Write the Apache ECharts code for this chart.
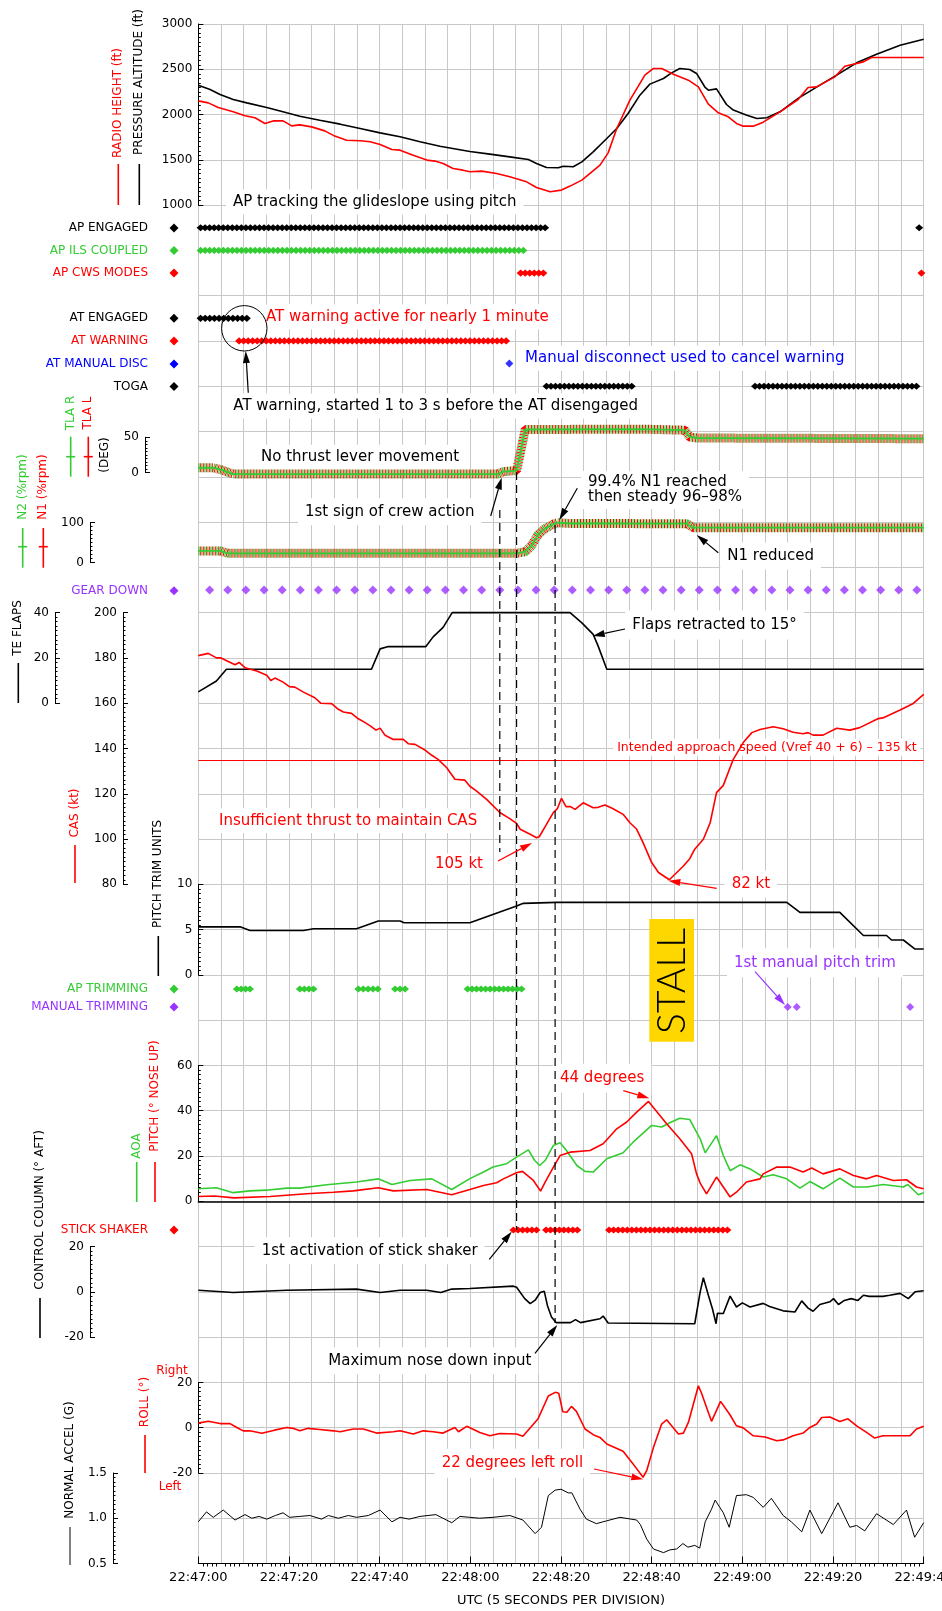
<!DOCTYPE html>
<html><head><meta charset="utf-8">
<script src="https://cdn.jsdelivr.net/npm/echarts@6/dist/echarts.min.js"></script>
<style>html,body{margin:0;padding:0;background:#fff}#c{width:942px;height:1611px}</style>
</head><body><div id="c"></div><script>
// ---------- DATA (t = seconds after 22:47:00 UTC) ----------
const timeTicks = ['22:47:00','22:47:20','22:47:40','22:48:00','22:48:20','22:48:40','22:49:00','22:49:20','22:49:40'];
const pressureAltitude = [[0,2325],[2.6,2277],[4.8,2222],[7.7,2166],[10.7,2129],[15.1,2078],[19.5,2019],[22.4,1982],[26.8,1938],[31.3,1894],[35.7,1846],[40.1,1798],[44.5,1754],[48.9,1699],[53.3,1651],[59.9,1592],[64.3,1563],[68.7,1533],[72.8,1504],[74.6,1460],[76.8,1416],[79.4,1412],[80.5,1430],[82.7,1423],[84.6,1478],[87.1,1588],[90.1,1736],[92.3,1846],[94.8,2012],[97.4,2214],[99.6,2336],[102.6,2398],[104.4,2460],[106.2,2509],[108.4,2498],[109.9,2454],[111.8,2299],[112.5,2269],[114.3,2284],[116.5,2111],[118,2049],[121,1993],[123.2,1956],[125.4,1964],[128.3,2030],[132.3,2178],[137.1,2325],[140.8,2435],[145.2,2571],[149.6,2667],[154.8,2766],[160,2832]];
const radioHeight = [[0,2151],[2.2,2129],[4.4,2078],[7.7,2030],[10.3,1986],[12.5,1964],[14.7,1902],[16.5,1930],[18.7,1930],[20.6,1875],[22.4,1886],[25,1864],[27.9,1820],[30.1,1762],[32.7,1717],[35.7,1710],[37.9,1699],[40.1,1670],[42.7,1615],[44.5,1607],[47.4,1552],[50.4,1497],[52.2,1486],[54,1460],[56.2,1405],[58.4,1386],[59.9,1368],[62.5,1375],[65.8,1350],[68.7,1313],[72.4,1257],[74.6,1195],[77.6,1147],[80.1,1166],[82,1210],[84.6,1276],[88.6,1442],[90.4,1577],[92.3,1846],[95.2,2159],[98.5,2435],[100.4,2509],[102.2,2509],[104.8,2446],[108.1,2380],[110.3,2306],[112.5,2115],[114.7,2019],[116.9,1975],[118.7,1902],[120.2,1872],[122.4,1872],[124.6,1916],[128.3,2030],[132.3,2166],[134.5,2299],[136.4,2306],[140.4,2416],[142.6,2534],[146.7,2582],[148.5,2630],[160,2630]];
const apEngaged = [[0.5,76.5],[159,159]];
const apIlsCoupled = [[0.5,71.7]];
const apCwsModes = [[71.1,76.1],[159.5,159.5]];
const atEngaged = [[0.5,10.7]];
const atWarning = [[9,67.9]];
const atManualDisc = [68.6];
const toga = [[76.8,95.6],[122.8,158.4]];
const tla = [[0,7],[3.3,7],[5.1,4],[7.7,-2],[66,-2],[67.3,1.5],[70.2,3],[71,27],[72.1,61],[98,61.5],[107.3,60],[108.4,50.5],[110,49],[160,48]];
const n1 = [[0,29],[4.8,29],[6.6,23],[70.2,23],[72.1,27],[73.5,42],[74.9,69],[76.4,84],[78.3,96],[79.2,99.4],[82,97.5],[90,97.5],[100,97],[107.7,97],[109.2,87],[160,87]];
const gearDown = [2.5,6.5,10.5,14.5,18.5,22.5,26.5,30.5,34.5,38.5,42.5,46.5,50.5,54.5,58.5,62.5,66.5,70.5,74.5,78.5,82.5,86.5,90.5,94.5,98.5,102.5,106.5,110.5,114.5,118.5,122.5,126.5,130.5,134.5,138.5,142.5,146.5,150.5,154.5,158.5];
const teFlaps = [[0,5],[4,9.8],[6.2,15],[38.2,15],[40.1,24],[41.9,25],[50.2,25],[51.8,29.3],[54,33.5],[56,40],[82,40],[84.6,35.5],[87.1,30.4],[88.2,25.2],[90.1,15],[160,15]];
const cas = [[0,181],[2.2,182],[4,180],[5,180],[8.1,177],[9,178],[10.3,175.7],[12.9,174.2],[15.1,172.3],[16,170],[16.9,171.1],[18.7,169.3],[20.1,167.3],[21.3,167.1],[23.2,164.9],[25.7,162.4],[27,160],[29.4,159.8],[30.9,157.3],[32,156.1],[33.8,155.5],[35.3,153.1],[36.8,151.4],[38,149.9],[39.2,148.1],[40.1,149],[41.2,145.8],[43,144],[45.2,144],[46.3,142.1],[47.8,141.8],[50,139.3],[51.5,137],[52.9,135.2],[54.8,131.5],[56.6,126.4],[58.8,126],[59.9,123.3],[61.4,121.2],[63.6,117.5],[66.5,111.7],[68.7,109],[70.2,106.9],[71,104.3],[73.2,102.1],[74.6,100.6],[75.2,101],[76.8,106.5],[78.3,111.7],[79.2,113.4],[80.1,118],[81.1,114.3],[82.1,114.3],[83.1,113.1],[84.9,116],[87.1,113.8],[88.2,114],[89.7,115],[91.5,113.4],[93.7,110.9],[95.2,107.2],[96.7,104.3],[98.1,98.4],[100,89.6],[101.5,85.2],[103.9,82],[107,88.1],[108.4,91.3],[109.5,95.5],[111.4,99.9],[112.9,107.2],[114.3,120.5],[115.8,123.7],[118,135.2],[120.2,142.6],[122.1,147],[123.9,148.4],[126.8,149.6],[129,148.7],[131.2,147.2],[133.4,146.5],[134.5,147],[135.6,145.9],[137.8,145.9],[140.8,148.9],[143.7,148.1],[145.9,149.2],[150,153.2],[151,153.5],[154.8,157],[157.7,159.9],[160,163.9]];
const intendedSpeed = 135;
const pitchTrim = [[0,5.3],[9.2,5.3],[11.4,4.9],[23.2,4.9],[25.4,5.1],[34.9,5.1],[39.7,5.95],[44.5,5.95],[45.4,5.75],[59.9,5.75],[70.2,7.6],[71.7,7.9],[79,8.0],[129.8,8.0],[132.7,6.9],[141.5,6.9],[146.7,4.35],[151.8,4.35],[152.9,3.85],[155.5,3.85],[158.1,2.85],[160,2.85]];
const apTrimming = [[8.5,11.4],[22.4,25.4],[35.3,39.6],[43.4,45.6],[59.4,71.3]];
const manualTrimming = [130,132,157];
const pitch = [[0,2.1],[3.5,2.3],[7.9,1.5],[15.8,2.1],[23.9,3.3],[29.8,4],[34.2,4.6],[39.7,6],[43,4.6],[50.4,5.2],[55.9,2.9],[59.9,5.2],[62.9,7],[65.8,8.2],[67.3,9.9],[70.2,12.6],[71.5,13.2],[73.9,9.2],[75.5,4.5],[76.5,8.5],[78.3,15],[79.8,20.2],[82,21.7],[86.4,22.4],[89.3,25.4],[92.3,32],[94.5,35],[96.7,39.4],[99.3,44.1],[103.3,34.2],[106.2,27.6],[108.8,21],[109.9,12.1],[110.7,8],[112.1,3.3],[114.3,10.7],[117.3,1.9],[118.7,4],[120.9,8.5],[123.9,9.9],[124.6,12.1],[127.6,15.1],[130.5,15.1],[133.4,12.9],[135.3,14.7],[137.8,12.1],[141.5,14.3],[144.5,11.4],[147.4,9.9],[149.6,11.4],[153.3,9.2],[156.2,9.5],[158.4,6.3],[160,5.5]];
const aoa = [[0,5.5],[4,6],[7.7,3.8],[11.4,4.6],[15,4.9],[19.5,5.8],[22.4,5.8],[28.3,7.3],[34.9,8.5],[39.7,9.9],[42.7,7.4],[46.7,9.2],[51.5,9.9],[55.9,5.2],[59.9,10],[62.9,12.9],[65,15.1],[68,16.6],[70.2,19.5],[72.8,22.7],[74.2,18],[75.3,15.8],[76.5,18],[78.3,24.6],[79.8,25.8],[81.2,22.4],[83.5,15.8],[85.3,13.2],[87.1,12.9],[90.1,18.8],[93.7,21.4],[95.9,26.1],[100,33.5],[102.2,32.8],[104,34.7],[106.2,36.7],[108.4,36.1],[110.7,27.6],[111.8,21.4],[114.3,29],[115.8,20.2],[117.3,13.5],[119.5,16.1],[121.7,14.3],[124.6,10.7],[126.8,11.7],[129.8,9.9],[132.7,5.8],[134.9,8.7],[137.8,5.5],[141.5,10.2],[144.5,6.3],[147.5,6.3],[151.1,7.4],[155.5,6.3],[156.5,7.4],[158.8,2.9],[160,3.8]];
const stickShaker = [[69.5,74.6],[76.7,83.6],[90.6,116.7]];
const controlColumn = [[0,0.7],[7.7,-0.3],[19.5,0.7],[34.9,1.2],[40.1,-0.3],[44.5,0.7],[50.4,0.7],[53.5,-0.3],[55.9,1.2],[59.9,1.5],[69.5,2.5],[70.2,2.0],[72,-3],[73.2,-5.2],[74.3,-3.7],[75.4,-0.3],[76.3,0.3],[77,-6],[77.9,-11.1],[78.9,-13.6],[82.1,-13.6],[83.2,-12.3],[84.3,-13.6],[88.6,-11.9],[89.3,-10.7],[90.4,-13.8],[109.5,-14.1],[110.7,0],[111.4,6.2],[112.5,-1.5],[113.4,-7.5],[114.2,-14.1],[114.5,-9.5],[115.8,-9.6],[117.3,-1.9],[118.7,-6.7],[120,-4.9],[121.7,-6.7],[124.6,-5.1],[126,-6.5],[129,-8.4],[131.6,-8.9],[133.1,-4],[134.5,-7.2],[135.6,-8.6],[137.1,-5.6],[139.3,-4.4],[140.1,-3],[141.2,-5.6],[142.5,-3.8],[144,-3],[145.5,-3.8],[146.7,-1.5],[148,-2],[151,-2],[152.5,-1.5],[154.8,-0.7],[156.6,-3],[158.1,0],[160,0.5]];
const roll = [[0,2],[2.2,2.8],[4.8,1.8],[7,1.8],[8.5,0.1],[9.9,-1.4],[11.4,-1.4],[14,-2.5],[16.8,-1.1],[19.5,0.1],[20.9,-0.3],[22.4,-1.4],[24.2,-0.3],[26.8,-0.8],[29.8,-1.4],[31.3,-1.8],[34.2,-0.6],[36.4,-0.6],[39.3,-2.4],[43,-1.8],[44.5,-1.4],[47.4,-2.8],[49.6,-1.4],[51.8,-1.8],[54,-2.4],[56.6,0.1],[57.4,-1.8],[59.2,0.6],[62.1,-2.1],[64.3,-3.6],[66.5,-2.6],[70.2,-2.8],[71.6,-3.8],[74.9,3.8],[77.2,14],[78.7,15.6],[79.5,15.2],[80.4,7],[81.3,6.8],[82.3,9.4],[83.4,7.2],[85.3,-0.6],[87.1,-3.1],[88.6,-4.3],[90.1,-7.2],[93.7,-10.4],[95.9,-16],[98.1,-21.9],[98.9,-19],[100.4,-8.7],[102.2,1.6],[103.3,3.5],[104.4,0.8],[105.9,-2.8],[107,-2.4],[108.1,2.3],[110.3,18.5],[111,15.2],[112.5,6.7],[113.2,2.8],[115.2,11.6],[117.3,5.6],[118.7,0.8],[120.2,-0.1],[122.4,-3.6],[125,-4.1],[127.6,-5.8],[129,-5.4],[131.2,-3.6],[133.4,-2.4],[134.9,0.1],[136.4,1.6],[137.5,4.5],[139.3,4.7],[141.5,2.7],[143.3,3.9],[145.2,0.8],[147.4,-2.1],[149.2,-4.6],[151,-3.6],[154.8,-3.6],[157,-3.6],[158.4,-0.6],[160,0.6]];
const normalAccel = [[0,0.96],[1.8,1.07],[3.3,1.01],[5.5,1.09],[8.1,0.98],[10.3,1.04],[11.8,1.0],[13.4,1.02],[15.1,0.99],[17,1.03],[18.7,1.06],[20.1,1.01],[22.4,1.02],[24.6,1.03],[27.2,0.99],[28.7,1.03],[30.9,1.0],[33.1,1.03],[34.9,1.01],[37.5,1.03],[40.1,1.09],[42.7,0.96],[44.5,1.01],[46.5,0.99],[48.9,1.02],[52.4,1.04],[55.9,0.95],[57.7,1.02],[59.9,1.01],[62,1.0],[65,1.01],[68.7,1.03],[71.6,0.98],[74.3,0.83],[75.7,0.9],[77.2,1.25],[78.7,1.31],[80,1.32],[81.6,1.28],[82.4,1.28],[84.2,1.1],[85.6,0.99],[87.8,0.94],[90,0.97],[93,1.01],[96.7,0.98],[97.5,0.93],[98.9,0.77],[100.4,0.66],[102.6,0.62],[104,0.65],[105.5,0.66],[106.9,0.72],[108,0.68],[109.5,0.7],[110.6,0.67],[111.8,0.96],[113.2,1.1],[114,1.2],[115.8,1.06],[117.1,0.9],[118.7,1.25],[120.9,1.26],[122.4,1.23],[124.6,1.12],[126.4,1.22],[129,1.03],[130.8,0.96],[133.1,0.85],[134.9,1.09],[137.5,0.83],[141.1,1.17],[143.7,0.9],[145.2,0.92],[147,0.86],[149.6,1.05],[153.3,0.93],[156.2,1.09],[158,0.79],[160,0.95]];

// ---------- LAYOUT ----------
const FONT = '"DejaVu Sans", sans-serif';
const L = 198.3, R = 923.7, T = 24, B = 1563.5;
const CELL = (B - T) / 34;
const cy = k => T + CELL * k;
const RED = '#ff0000', GREEN = '#33cc33', BLUE = '#0000ff', PURPLE = '#9933ff', BLACK = '#000000';

function grid(top, bottom) {
  return { left: L, width: R - L, top: top, height: bottom - top, containLabel: false, outerBoundsMode: 'none' };
}
const grids = [
  grid(T, B),                 // 0 background
  grid(cy(0), cy(4)),         // 1 altitude
  grid(437.3, 472.7),         // 2 TLA
  grid(522.5, 562.5),         // 3 N1/N2
  grid(cy(13), cy(15)),       // 4 flaps
  grid(cy(13), cy(19)),       // 5 CAS
  grid(cy(19), cy(21)),       // 6 pitch trim
  grid(cy(23), cy(26)),       // 7 pitch / AOA
  grid(cy(27), cy(29)),       // 8 control column
  grid(cy(30), cy(32)),       // 9 roll
  grid(cy(32), cy(34))        // 10 normal accel
];

const xAxes = [
  { type: 'value', gridIndex: 0, min: 0, max: 160, interval: 5, position: 'bottom',
    axisLine: { show: true, onZero: false, lineStyle: { color: BLACK, width: 1 } },
    axisTick: { show: false }, minorTick: { show: true, splitNumber: 5, length: 3, lineStyle: { color: BLACK } },
    axisLabel: { show: false }, splitLine: { show: true, lineStyle: { color: '#c8c8c8', width: 1 } }, minorSplitLine: { show: false } },
  { type: 'value', gridIndex: 0, min: 0, max: 160, interval: 20, position: 'bottom',
    axisLine: { show: false, onZero: false }, axisTick: { show: true, inside: true, length: 7, lineStyle: { color: BLACK } },
    axisLabel: { show: true, color: BLACK, fontSize: 13, fontFamily: FONT, margin: 8, showMinLabel: true, showMaxLabel: true, hideOverlap: false,
      formatter: v => timeTicks[Math.round(v / 20)] || '' },
    splitLine: { show: false } }
];
for (let g = 1; g <= 10; g++) {
  xAxes.push({ type: 'value', gridIndex: g, min: 0, max: 160, show: g === 7,
    axisLine: { show: g === 7, onZero: false, lineStyle: { color: BLACK, width: 1.5 } },
    axisTick: { show: false }, axisLabel: { show: false }, splitLine: { show: false } });
}

function yAx(gi, min, max, interval, offset, extra) {
  return Object.assign({ type: 'value', gridIndex: gi, min, max, interval, position: 'left', offset,
    axisLine: { show: true, onZero: false, lineStyle: { color: BLACK, width: 1 } },
    axisTick: { show: true, inside: true, length: 5, lineStyle: { color: BLACK } },
    minorTick: { show: true, splitNumber: 10, length: 2.5, lineStyle: { color: BLACK } },
    axisLabel: { show: true, color: BLACK, fontSize: 12, fontFamily: FONT, margin: 6, showMinLabel: true, showMaxLabel: true, hideOverlap: false, formatter: v => String(v) },
    splitLine: { show: false }, minorSplitLine: { show: false } }, extra || {});
}
const yAxes = [
  { type: 'value', gridIndex: 0, min: 0, max: 34, interval: 1, inverse: true,
    axisLine: { show: false }, axisTick: { show: false }, axisLabel: { show: false },
    splitLine: { show: true, lineStyle: { color: '#c8c8c8', width: 1 } } },
  yAx(1, 1000, 3000, 500, 0),
  yAx(2, 0, 50, 50, L - 145),
  yAx(3, 0, 100, 100, L - 90),
  yAx(4, 0, 40, 20, L - 55),
  yAx(5, 80, 200, 20, L - 123),
  yAx(6, 0, 10, 5, 0),
  yAx(7, 0, 60, 20, 0),
  yAx(8, -20, 20, 20, L - 90),
  yAx(9, -20, 20, 20, 0),
  yAx(10, 0.5, 1.5, 0.5, L - 113)
];
yAxes[10].axisLabel.formatter = v => v.toFixed(1);

// ---------- SERIES ----------
function line(gi, data, color, width, extra) {
  return Object.assign({ type: 'line', xAxisIndex: gi + 1, yAxisIndex: gi, data, symbol: 'none', clip: false, silent: true,
    lineStyle: { color, width }, z: 3 }, extra || {});
}
function band(gi, data) {
  return [
    line(gi, data, GREEN, 9, { lineStyle: { color: GREEN, width: 9, type: [1, 2] } }),
    line(gi, data, RED, 9, { lineStyle: { color: RED, width: 9, type: [1, 2], dashOffset: 1.5 } }),
    line(gi, data, GREEN, 1.8, { z: 4 })
  ];
}
function diamonds(intervals, row, color) {
  return { type: 'custom', xAxisIndex: 0, yAxisIndex: 0, silent: true, z: 3,
    data: intervals.map(iv => [iv[0], iv[1], row]),
    renderItem: (params, api) => {
      const p1 = api.coord([api.value(0), api.value(2)]);
      const p2 = api.coord([api.value(1), api.value(2)]);
      const step = Math.abs(api.size([1, 0])[0]);
      const n = Math.max(0, Math.round((p2[0] - p1[0]) / step));
      const ch = [];
      for (let i = 0; i <= n; i++) {
        const x = n ? p1[0] + (p2[0] - p1[0]) * i / n : p1[0], y = p1[1];
        ch.push({ type: 'polygon', shape: { points: [[x - 4, y], [x, y - 3.6], [x + 4, y], [x, y + 3.6]] }, style: { fill: color } });
      }
      return { type: 'group', children: ch };
    } };
}
function points(times, row, color, size) {
  return { type: 'scatter', xAxisIndex: 0, yAxisIndex: 0, silent: true, z: 3, symbol: 'diamond', symbolSize: [size, size],
    data: times.map(t => [t, row]), itemStyle: { color } };
}
function dashV(t, c1, c2) {
  return { type: 'line', xAxisIndex: 0, yAxisIndex: 0, silent: true, symbol: 'none', z: 5,
    data: [[t, c1], [t, c2]], lineStyle: { color: BLACK, width: 1.2, type: [8, 5] } };
}
const rowOf = y => (y - T) / CELL;

const series = [
  line(1, pressureAltitude, BLACK, 1.6),
  line(1, radioHeight, RED, 1.6),
  diamonds(apEngaged, 4.5, BLACK),
  diamonds(apIlsCoupled, 5.0, GREEN),
  diamonds(apCwsModes, 5.5, RED),
  diamonds(atEngaged, 6.5, BLACK),
  diamonds(atWarning, 7.0, RED),
  points(atManualDisc, 7.5, BLUE, 8),
  diamonds(toga, 8.0, BLACK),
  ...band(2, tla),
  ...band(3, n1),
  points(gearDown, 12.5, PURPLE, 9),
  line(4, teFlaps, BLACK, 1.6),
  line(5, cas, RED, 1.6, { markLine: { silent: true, symbol: 'none', label: { show: false },
    lineStyle: { color: RED, width: 1.2, type: 'solid' }, data: [{ yAxis: intendedSpeed }] } }),
  line(6, pitchTrim, BLACK, 1.6),
  diamonds(apTrimming, rowOf(989), GREEN),
  points(manualTrimming, rowOf(1007), PURPLE, 8),
  line(7, aoa, GREEN, 1.6),
  line(7, pitch, RED, 1.6),
  diamonds(stickShaker, rowOf(1230), RED),
  line(8, controlColumn, BLACK, 1.6),
  line(9, roll, RED, 1.6),
  line(10, normalAccel, BLACK, 1),
  dashV(66.5, rowOf(510), rowOf(852)),
  dashV(70.2, rowOf(472), rowOf(1230)),
  dashV(78.7, rowOf(525), rowOf(1323))
];

// ---------- GRAPHICS (labels & annotations) ----------
const gfx = [];
function vtext(x, y, text, color, size) {
  gfx.push({ type: 'text', x, y, rotation: Math.PI / 2, z: 5,
    style: { text, fill: color, font: (size || 12) + 'px ' + FONT, align: 'center', verticalAlign: 'middle' } });
}
function vline(x, y1, y2, color, w, cross) {
  gfx.push({ type: 'line', z: 5, shape: { x1: x, y1, x2: x, y2 }, style: { stroke: color, lineWidth: w || 1.6 } });
  if (cross) gfx.push({ type: 'line', z: 5, shape: { x1: x - 4.5, y1: cross, x2: x + 4.5, y2: cross }, style: { stroke: color, lineWidth: 1.6 } });
}
function rowLabel(y, text, color) {
  gfx.push({ type: 'text', x: 148, y, z: 5, style: { text, fill: color, font: '12px ' + FONT, align: 'right', verticalAlign: 'middle' } });
  gfx.push({ type: 'polygon', z: 5, shape: { points: [[174 - 4.5, y], [174, y - 4.5], [174 + 4.5, y], [174, y + 4.5]] }, style: { fill: color } });
}
function note(xLeft, y, text, color, opts) {
  const o = Object.assign({ size: 15, pad: [5, 7], align: 'left' }, opts || {});
  const x = o.align === 'left' ? xLeft - o.pad[1] : xLeft + o.pad[1];
  gfx.push({ type: 'text', x, y, z: 1,
    style: { text, fill: color, font: o.size + 'px ' + FONT, align: o.align, verticalAlign: 'middle', backgroundColor: '#ffffff', padding: o.pad } });
}
function arrow(x1, y1, x2, y2, color) {
  const dx = x2 - x1, dy = y2 - y1, len = Math.hypot(dx, dy), ux = dx / len, uy = dy / len;
  const hl = 12, hw = 3.5, bx = x2 - ux * hl, by = y2 - uy * hl;
  gfx.push({ type: 'line', z: 10, shape: { x1, y1, x2: bx, y2: by }, style: { stroke: color, lineWidth: 1.2 } });
  gfx.push({ type: 'polygon', z: 10, shape: { points: [[x2, y2], [bx - uy * hw, by + ux * hw], [bx + uy * hw, by - ux * hw]] }, style: { fill: color } });
}

// axis titles and legend keys
vtext(139.3, 82, 'PRESSURE ALTITUDE (ft)', BLACK); vline(139.3, 164, 205, BLACK);
vtext(118.3, 103, 'RADIO HEIGHT (ft)', RED); vline(118.3, 164, 205, RED);
rowLabel(228, 'AP ENGAGED', BLACK);
rowLabel(250.5, 'AP ILS COUPLED', GREEN);
rowLabel(273, 'AP CWS MODES', RED);
rowLabel(318.3, 'AT ENGAGED', BLACK);
rowLabel(341, 'AT WARNING', RED);
rowLabel(364, 'AT MANUAL DISC', BLUE);
rowLabel(386.5, 'TOGA', BLACK);
vtext(70.7, 413, 'TLA R', GREEN); vline(70.7, 436.7, 476.7, GREEN, 1.6, 456.7);
vtext(88.3, 413, 'TLA L', RED); vline(88.3, 436.7, 476.7, RED, 1.6, 456.7);
vtext(105, 455, '(DEG)', BLACK);
vtext(22.7, 487, 'N2 (%rpm)', GREEN); vline(22.7, 528, 567.7, GREEN, 1.6, 546.7);
vtext(43.3, 487, 'N1 (%rpm)', RED); vline(43.3, 528, 567.7, RED, 1.6, 546.7);
rowLabel(590.7, 'GEAR DOWN', PURPLE);
vtext(18.3, 628, 'TE FLAPS', BLACK); vline(18.3, 663, 703, BLACK);
vtext(75, 813, 'CAS (kt)', RED); vline(75, 845, 883, RED);
vtext(158.3, 874, 'PITCH TRIM UNITS', BLACK); vline(158.3, 936, 976, BLACK);
rowLabel(989, 'AP TRIMMING', GREEN);
rowLabel(1007, 'MANUAL TRIMMING', PURPLE);
vtext(155, 1096, 'PITCH (° NOSE UP)', RED); vline(155, 1162, 1202, RED);
vtext(136.7, 1146, 'AOA', GREEN); vline(136.7, 1162, 1202, GREEN);
vtext(40, 1210, 'CONTROL COLUMN (° AFT)', BLACK); vline(40, 1298, 1338, BLACK);
rowLabel(1230, 'STICK SHAKER', RED);
vtext(145, 1402, 'ROLL (°)', RED); vline(145, 1435, 1473, RED);
gfx.push({ type: 'text', x: 172, y: 1371, z: 5, style: { text: 'Right', fill: RED, font: '12px ' + FONT, align: 'center', verticalAlign: 'middle' } });
gfx.push({ type: 'text', x: 170, y: 1487, z: 5, style: { text: 'Left', fill: RED, font: '12px ' + FONT, align: 'center', verticalAlign: 'middle' } });
vtext(70, 1460, 'NORMAL ACCEL (G)', BLACK); vline(70, 1527, 1565, BLACK, 1);
gfx.push({ type: 'text', x: (L + R) / 2, y: 1601, z: 5, style: { text: 'UTC (5 SECONDS PER DIVISION)', fill: BLACK, font: '13px ' + FONT, align: 'center', verticalAlign: 'middle' } });

// annotations
note(233, 202, 'AP tracking the glideslope using pitch', BLACK);
note(266, 316.7, 'AT warning active for nearly 1 minute', RED);
note(525, 358.3, 'Manual disconnect used to cancel warning', BLUE);
note(233.3, 406, 'AT warning, started 1 to 3 s before the AT disengaged', BLACK);
note(261, 457.3, 'No thrust lever movement', BLACK);
note(305, 511.7, '1st sign of crew action', BLACK, { pad: [6, 7] });
note(588, 490, '99.4% N1 reached\nthen steady 96–98%', BLACK, { pad: [4, 7] });
note(727.3, 556, 'N1 reduced', BLACK, { pad: [6, 7] });
note(632.3, 625, 'Flaps retracted to 15°', BLACK, { pad: [7, 7] });
note(916.7, 747.3, 'Intended approach speed (Vref 40 + 6) – 135 kt', RED, { size: 12.5, pad: [2, 4], align: 'right' });
note(219, 820.7, 'Insufficient thrust to maintain CAS', RED);
note(435, 864, '105 kt', RED, { pad: [3, 5] });
note(731.7, 884, '82 kt', RED, { pad: [6, 7] });
note(734, 962.7, '1st manual pitch trim', PURPLE, { pad: [7, 7] });
note(560, 1078.3, '44 degrees', RED, { pad: [7, 7] });
note(261.7, 1250.7, '1st activation of stick shaker', BLACK, { pad: [6, 7] });
note(328.3, 1360.7, 'Maximum nose down input', BLACK, { pad: [6, 7] });
note(441.7, 1463.3, '22 degrees left roll', RED, { pad: [7, 7] });

// STALL box
gfx.push({ type: 'rect', z: 1, shape: { x: 649.3, y: 919, width: 44.7, height: 122.7 }, style: { fill: '#ffd700' } });
gfx.push({ type: 'text', x: 672, y: 981, rotation: Math.PI / 2, z: 2,
  style: { text: 'STALL', fill: BLACK, font: '300 39px Lato, "DejaVu Sans", sans-serif', align: 'center', verticalAlign: 'middle' } });

// circle & arrows
gfx.push({ type: 'circle', z: 10, shape: { cx: 244.3, cy: 328.3, r: 22.7 }, style: { stroke: BLACK, lineWidth: 1, fill: null } });
arrow(248.3, 392.7, 245.7, 351, BLACK);
arrow(490.7, 516, 501.7, 477.5, BLACK);
arrow(577.3, 488.3, 559.3, 520, BLACK);
arrow(718.3, 552.7, 696.7, 535, BLACK);
arrow(625, 629, 592.7, 636, BLACK);
arrow(498, 861, 532, 843, RED);
arrow(716.7, 888.3, 668.3, 880.7, RED);
arrow(755, 971.7, 785, 1005, PURPLE);
arrow(623.3, 1090.7, 649.3, 1098.3, RED);
arrow(489.3, 1259.3, 511.7, 1231.7, BLACK);
arrow(535, 1353.3, 557.3, 1325, BLACK);
arrow(594, 1469, 643.3, 1479.3, RED);

const chart = echarts.init(document.getElementById('c'), null, { renderer: 'canvas' });
chart.setOption({
  animation: false,
  backgroundColor: '#ffffff',
  textStyle: { fontFamily: FONT },
  grid: grids, xAxis: xAxes, yAxis: yAxes, series: series, graphic: gfx
});
</script></body></html>
